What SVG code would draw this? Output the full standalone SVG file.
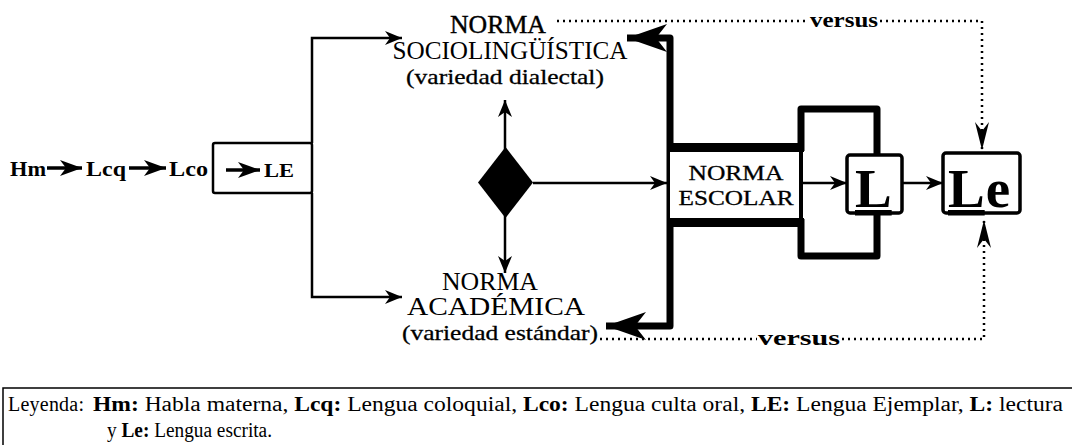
<svg xmlns="http://www.w3.org/2000/svg" width="1072" height="445" viewBox="0 0 1072 445" font-family="'Liberation Serif', 'Times New Roman', serif">
<style>
  text { font-family: "Liberation Serif", "Times New Roman", serif; fill: #000; }
  .b { font-weight: bold; }
  .thin { fill: none; stroke: #000; stroke-width: 2.5; }
  .thick { fill: none; stroke: #000; stroke-width: 7; stroke-linejoin: round; }
  .dot { fill: none; stroke: #000; stroke-width: 2.5; stroke-dasharray: 2 4; }
</style>
<defs>
  <marker id="ah" markerUnits="userSpaceOnUse" markerWidth="18" markerHeight="14" refX="17" refY="7" orient="auto" overflow="visible">
    <path d="M17,7 L0,0 L5,7 L0,14 Z" fill="#000"/>
  </marker>
  <marker id="ahs" markerUnits="userSpaceOnUse" markerWidth="22" markerHeight="16" refX="22" refY="8" orient="auto" overflow="visible">
    <path d="M22,8 L0,0 L6,8 L0,16 Z" fill="#000"/>
  </marker>
  <marker id="ahk" markerUnits="userSpaceOnUse" markerWidth="40" markerHeight="28" refX="40" refY="14" orient="auto" overflow="visible">
    <path d="M40,14 L0,0 L11,14 L0,28 Z" fill="#000"/>
  </marker>
  <marker id="ahd" markerUnits="userSpaceOnUse" markerWidth="28" markerHeight="14" refX="28" refY="7" orient="auto" overflow="visible">
    <path d="M28,7 L0,0 L9,7 L0,14 Z" fill="#000"/>
  </marker>
</defs>

<g id="connectors">
  <line x1="47" y1="168" x2="82" y2="168" stroke="#000" stroke-width="3.5" marker-end="url(#ahs)"/>
  <line x1="129" y1="168" x2="166" y2="168" stroke="#000" stroke-width="3.5" marker-end="url(#ahs)"/>
  <line x1="226" y1="170" x2="260" y2="170" stroke="#000" stroke-width="3.5" marker-end="url(#ahs)"/>
  <path class="thin" d="M312,143 V38 H402" marker-end="url(#ah)"/>
  <path class="thin" d="M312,193 V297 H402" marker-end="url(#ah)"/>
  <line class="thin" x1="505" y1="150" x2="505" y2="100" marker-end="url(#ah)"/>
  <line class="thin" x1="505" y1="215" x2="505" y2="273" marker-end="url(#ah)"/>
  <line class="thin" x1="533" y1="183" x2="667" y2="183" marker-end="url(#ah)"/>
  <path class="thick" d="M670,183 V38 H627" marker-end="url(#ahk)"/>
  <path class="thick" d="M670,183 V326 H606" marker-end="url(#ahk)"/>
  <path class="thick" d="M801,151 V109 H877 V155"/>
  <path class="thick" d="M801,219 V256 H877 V213"/>
  <line class="thin" x1="803" y1="183" x2="847" y2="183" marker-end="url(#ah)"/>
  <line class="thin" x1="902" y1="183" x2="943" y2="183" marker-end="url(#ah)"/>
  <path class="dot" d="M557,21 H808"/>
  <path class="dot" d="M880,21 H982 V150" marker-end="url(#ahd)"/>
  <path class="dot" d="M600,339 H757"/>
  <path class="dot" d="M842,339 H984 V220" marker-end="url(#ahd)"/>
</g>

<g id="chain">
  <text class="b" x="10" y="176" font-size="22" textLength="36" lengthAdjust="spacingAndGlyphs">Hm</text>
  <text class="b" x="86" y="176" font-size="22" textLength="40" lengthAdjust="spacingAndGlyphs">Lcq</text>
  <text class="b" x="169" y="176" font-size="22" textLength="39" lengthAdjust="spacingAndGlyphs">Lco</text>
</g>

<g id="node-le">
  <rect x="213" y="143" width="99" height="50" rx="2" fill="none" stroke="#000" stroke-width="2.5"/>
  <text class="b" x="264" y="177" font-size="18" textLength="30" lengthAdjust="spacingAndGlyphs">LE</text>
</g>

<g id="node-sociolinguistica">
  <text x="498" y="33" font-size="25" text-anchor="middle" textLength="96" lengthAdjust="spacingAndGlyphs" stroke="#000" stroke-width="0.4">NORMA</text>
  <text x="510" y="59" font-size="25" text-anchor="middle" textLength="235" lengthAdjust="spacingAndGlyphs">SOCIOLINGÜÍSTICA</text>
  <text x="505" y="84" font-size="22" text-anchor="middle" textLength="198" lengthAdjust="spacingAndGlyphs" stroke="#000" stroke-width="0.3">(variedad dialectal)</text>
</g>

<g id="node-diamond">
  <polygon points="505.5,147 533,182.5 505.5,218 478,182.5" fill="#000"/>
</g>

<g id="node-academica">
  <text x="490" y="290" font-size="25" text-anchor="middle" textLength="96" lengthAdjust="spacingAndGlyphs">NORMA</text>
  <text x="496" y="315" font-size="25" text-anchor="middle" textLength="178" lengthAdjust="spacingAndGlyphs">ACADÉMICA</text>
  <text x="500" y="340" font-size="22" text-anchor="middle" textLength="196" lengthAdjust="spacingAndGlyphs" stroke="#000" stroke-width="0.3">(variedad estándar)</text>
</g>

<g id="node-escolar">
  <rect x="670" y="147" width="131" height="76" fill="#fff" stroke="none"/>
  <line x1="667" y1="147.5" x2="804" y2="147.5" stroke="#000" stroke-width="9"/>
  <line x1="667" y1="222.5" x2="804" y2="222.5" stroke="#000" stroke-width="9"/>
  <line x1="801" y1="147" x2="801" y2="223" stroke="#000" stroke-width="4"/>
  <text x="736" y="180" font-size="21" text-anchor="middle" textLength="95" lengthAdjust="spacingAndGlyphs" stroke="#000" stroke-width="0.3">NORMA</text>
  <text x="736" y="205" font-size="21" text-anchor="middle" textLength="115" lengthAdjust="spacingAndGlyphs" stroke="#000" stroke-width="0.3">ESCOLAR</text>
</g>

<g id="node-l">
  <rect x="847" y="155" width="55" height="58" rx="3" fill="#fff" stroke="#000" stroke-width="3.5"/>
  <text class="b" x="855" y="207" font-size="55" text-decoration="underline">L</text>
</g>

<g id="node-le2">
  <rect x="943" y="153" width="77" height="60" rx="3" fill="#fff" stroke="#000" stroke-width="3.5"/>
  <text class="b" x="948" y="207" font-size="55"><tspan text-decoration="underline">L</tspan><tspan dx="1">e</tspan></text>
</g>

<g id="versus-labels">
  <text class="b" x="810" y="27" font-size="22" textLength="68" lengthAdjust="spacingAndGlyphs">versus</text>
  <text class="b" x="758" y="345" font-size="22" textLength="82" lengthAdjust="spacingAndGlyphs">versus</text>
</g>

<g id="legend">
  <rect x="3" y="388" width="1080" height="70" fill="none" stroke="#000" stroke-width="1.5"/>
  <text x="8" y="411" font-size="20" textLength="76" lengthAdjust="spacing">Leyenda:</text>
  <text x="93" y="411" font-size="20" textLength="970" lengthAdjust="spacingAndGlyphs"><tspan class="b">Hm:</tspan> Habla materna, <tspan class="b">Lcq:</tspan> Lengua coloquial, <tspan class="b">Lco:</tspan> Lengua culta oral, <tspan class="b">LE:</tspan> Lengua Ejemplar, <tspan class="b">L:</tspan> lectura</text>
  <text x="107" y="437" font-size="20" textLength="165" lengthAdjust="spacingAndGlyphs">y <tspan class="b">Le:</tspan> Lengua escrita.</text>
</g>
</svg>
